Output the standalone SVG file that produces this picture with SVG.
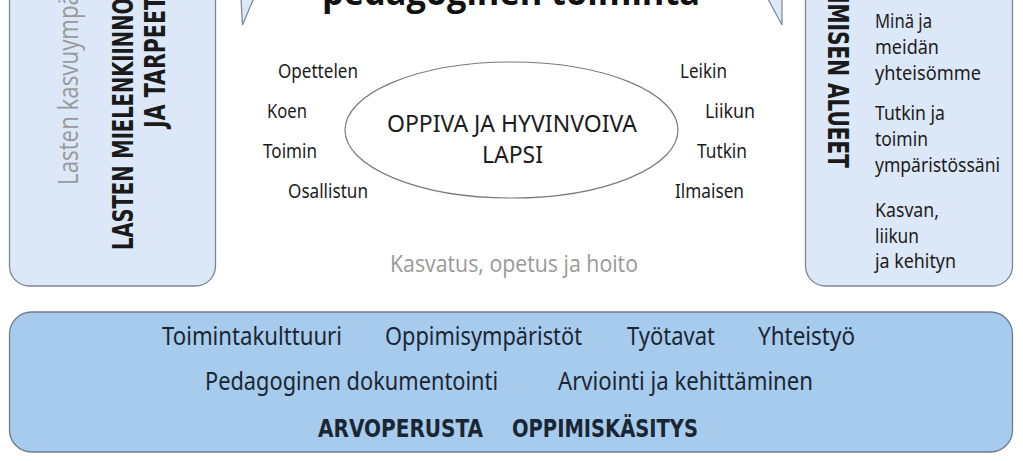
<svg xmlns="http://www.w3.org/2000/svg" width="1023" height="461" viewBox="0 0 1023 461">
<style>
.panel{fill:#dce8f7;stroke:#7b8794;stroke-width:1.3}
.base{fill:#a6cbed;stroke:#6d7d8c;stroke-width:1.3}
.tip{fill:#dce8f7;stroke:none}
.tipline{fill:none;stroke:#7b8794;stroke-width:1.2}
.ell{fill:#fff;stroke:#7a7a7a;stroke-width:1.2}
.b{font-family:"DejaVu Sans Condensed","DejaVu Sans",sans-serif;font-weight:bold;fill:#1a1a1a}
.r{font-family:"Noto Sans","Open Sans",sans-serif;fill:#1c1c1c}
.g{font-family:"Open Sans","Lato",sans-serif;fill:#999999}
.nav{font-family:"Noto Sans","Open Sans",sans-serif;fill:#1b2633;font-size:25px}
.navb{font-family:"DejaVu Sans Condensed","DejaVu Sans",sans-serif;font-weight:bold;fill:#1b2633;font-size:25px}
</style>
<rect width="1023" height="461" fill="#ffffff"/>
<g id="heading">
<polygon class="tip" points="241,0 253.5,0 242.5,25"/>
<polyline class="tipline" points="241,-1 242.5,25 253.5,-1"/>
<polygon class="tip" points="768,0 782,0 782,25"/>
<polyline class="tipline" points="768,-1 782,25 782,-1"/>
<text x="322" y="5" font-family="Open Sans, sans-serif" font-weight="bold" font-size="35" fill="#111" textLength="378" lengthAdjust="spacingAndGlyphs">pedagoginen toiminta</text>
</g>
<g id="left-panel">
<rect class="panel" x="9.5" y="-30" width="206" height="316" rx="20"/>
<text class="g" font-size="28" transform="translate(78,185) rotate(-90)" textLength="192" lengthAdjust="spacingAndGlyphs">Lasten kasvuympä</text>
<text class="b" font-size="28" transform="translate(133,250) rotate(-90)" textLength="252" lengthAdjust="spacingAndGlyphs">LASTEN MIELENKIINNO</text>
<text class="b" font-size="28" transform="translate(165,128) rotate(-90)" textLength="132" lengthAdjust="spacingAndGlyphs">JA TARPEET</text>
</g>
<g id="right-panel">
<rect class="panel" x="805.5" y="-30" width="207" height="316" rx="20"/>
<text class="b" font-size="29" transform="translate(828,168) rotate(90)" text-anchor="end" textLength="172" lengthAdjust="spacingAndGlyphs">IMISEN ALUEET</text>
<g class="r" font-size="19">
<text x="875" y="28" textLength="57" lengthAdjust="spacingAndGlyphs">Minä ja</text>
<text x="875" y="54" textLength="64" lengthAdjust="spacingAndGlyphs">meidän</text>
<text x="875" y="80" textLength="106" lengthAdjust="spacingAndGlyphs">yhteisömme</text>
<text x="875" y="120" textLength="70" lengthAdjust="spacingAndGlyphs">Tutkin ja</text>
<text x="875" y="146" textLength="53" lengthAdjust="spacingAndGlyphs">toimin</text>
<text x="875" y="172" textLength="125" lengthAdjust="spacingAndGlyphs">ympäristössäni</text>
<text x="875" y="217" textLength="64" lengthAdjust="spacingAndGlyphs">Kasvan,</text>
<text x="875" y="243" textLength="44" lengthAdjust="spacingAndGlyphs">liikun</text>
<text x="875" y="268" textLength="81" lengthAdjust="spacingAndGlyphs">ja kehityn</text>
</g>
</g>
<g id="center">
<ellipse class="ell" cx="511.5" cy="130" rx="166.5" ry="68"/>
<text class="r" font-size="24" x="387" y="132" textLength="250" lengthAdjust="spacingAndGlyphs">OPPIVA JA HYVINVOIVA</text>
<text class="r" font-size="24" x="482" y="163" textLength="61" lengthAdjust="spacingAndGlyphs">LAPSI</text>
<g class="r" font-size="19">
<text x="278" y="78" textLength="80" lengthAdjust="spacingAndGlyphs">Opettelen</text>
<text x="267" y="118" textLength="40" lengthAdjust="spacingAndGlyphs">Koen</text>
<text x="263" y="158" textLength="54" lengthAdjust="spacingAndGlyphs">Toimin</text>
<text x="288" y="198" textLength="80" lengthAdjust="spacingAndGlyphs">Osallistun</text>
<text x="680" y="78" textLength="47" lengthAdjust="spacingAndGlyphs">Leikin</text>
<text x="705" y="118" textLength="50" lengthAdjust="spacingAndGlyphs">Liikun</text>
<text x="697" y="158" textLength="50" lengthAdjust="spacingAndGlyphs">Tutkin</text>
<text x="675" y="198" textLength="69" lengthAdjust="spacingAndGlyphs">Ilmaisen</text>
</g>
<text class="g" font-size="23" x="390" y="272" fill="#888888" textLength="248" lengthAdjust="spacingAndGlyphs">Kasvatus, opetus ja hoito</text>
</g>
<g id="base-panel">
<rect class="base" x="9.5" y="312" width="1003" height="140" rx="22"/>
<text class="nav" x="162" y="345" textLength="180" lengthAdjust="spacingAndGlyphs">Toimintakulttuuri</text>
<text class="nav" x="385" y="345" textLength="197" lengthAdjust="spacingAndGlyphs">Oppimisympäristöt</text>
<text class="nav" x="627" y="345" textLength="88" lengthAdjust="spacingAndGlyphs">Työtavat</text>
<text class="nav" x="758" y="345" textLength="97" lengthAdjust="spacingAndGlyphs">Yhteistyö</text>
<text class="nav" x="205" y="390" textLength="293" lengthAdjust="spacingAndGlyphs">Pedagoginen dokumentointi</text>
<text class="nav" x="558" y="390" textLength="255" lengthAdjust="spacingAndGlyphs">Arviointi ja kehittäminen</text>
<text class="navb" x="318" y="437" textLength="165" lengthAdjust="spacingAndGlyphs">ARVOPERUSTA</text>
<text class="navb" x="512" y="437" textLength="186" lengthAdjust="spacingAndGlyphs">OPPIMISKÄSITYS</text>
</g>
<g id="connectors"/>
</svg>
